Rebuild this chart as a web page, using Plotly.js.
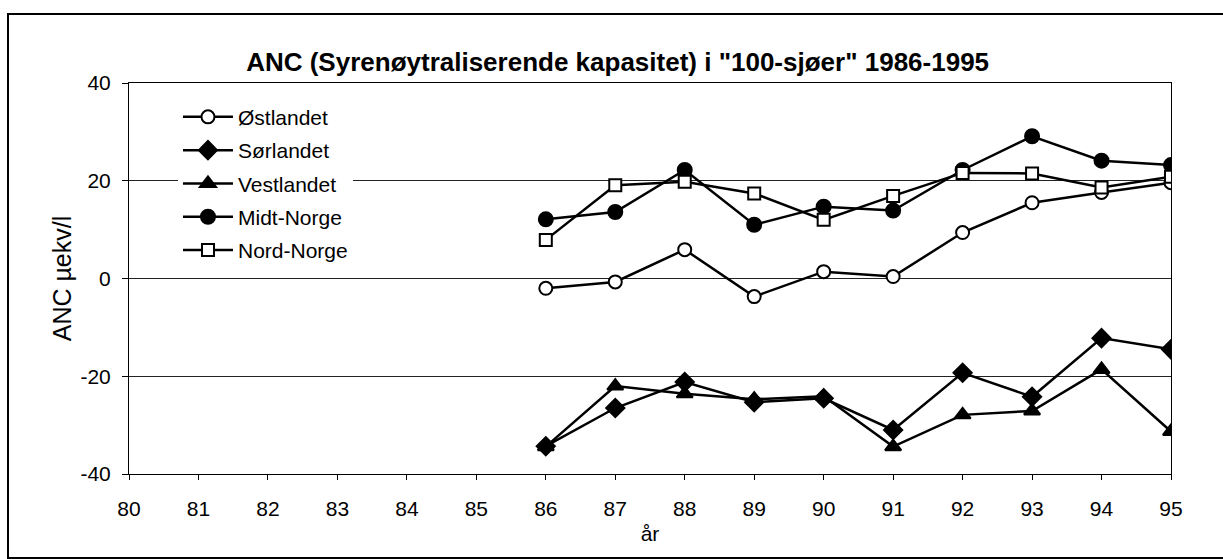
<!DOCTYPE html>
<html>
<head>
<meta charset="utf-8">
<script src="https://cdn.plot.ly/plotly-3.0.1.min.js"></script>
<style>
  html, body { margin: 0; padding: 0; background: #fff; }
  #chart { width: 1223px; height: 559px; }
</style>
</head>
<body>
<div id="chart"></div>
<script>
// ---- data ----
const years = [86, 87, 88, 89, 90, 91, 92, 93, 94, 95];
const ostlandet = [-2.0, -0.7, 5.9, -3.7, 1.4, 0.4, 9.4, 15.5, 17.6, 19.6];
const sorlandet = [-34.3, -26.5, -21.2, -25.3, -24.5, -31.0, -19.3, -24.2, -12.2, -14.5];
const vestlandet = [-34.4, -22.0, -23.6, -24.7, -24.1, -34.4, -27.9, -27.1, -18.6, -31.3];
const midtNorge = [12.1, 13.6, 22.2, 11.0, 14.7, 13.9, 22.2, 29.1, 24.1, 23.2];
const nordNorge = [7.9, 19.1, 19.8, 17.4, 12.0, 16.9, 21.6, 21.5, 18.6, 20.8];
const seriesNames = ["Østlandet", "Sørlandet", "Vestlandet", "Midt-Norge", "Nord-Norge"];
const xTicks = [80, 81, 82, 83, 84, 85, 86, 87, 88, 89, 90, 91, 92, 93, 94, 95];
const yTicks = [-40, -20, 0, 20, 40];
const titleText = 'ANC (Syrenøytraliserende kapasitet) i "100-sjøer" 1986-1995';
const xTitle = "år";
const yTitle = "ANC µekv/l";

const FONT = "Liberation Sans, Arial, Helvetica, sans-serif";

function series(name, y, symbol, size, fill) {
  return {
    type: "scatter", mode: "lines+markers",
    name: name, legendgroup: name,
    x: years, y: y,
    line: { color: "#000", width: 2.5 },
    marker: { symbol: symbol, size: size, color: fill, line: { color: "#000", width: 2 } }
  };
}

const data = [
  series(seriesNames[0], ostlandet, "circle", 13, "#fff"),
  series(seriesNames[1], sorlandet, "diamond", 14, "#000"),
  series(seriesNames[2], vestlandet, "triangle-up", 14, "#000"),
  series(seriesNames[3], midtNorge, "circle", 14, "#000"),
  series(seriesNames[4], nordNorge, "square", 12, "#fff")
];

const layout = {
  width: 1223, height: 559,
  paper_bgcolor: "#fff", plot_bgcolor: "#fff",
  font: { family: FONT, size: 21, color: "#000" },
  margin: { l: 129, r: 52, t: 83, b: 85, pad: 0 },
  title: {
    text: "<b>" + titleText + "</b>",
    font: { family: FONT, size: 26, color: "#000" },
    xref: "container", x: 0.505, xanchor: "center",
    yref: "container", y: 1 - 62 / 559, yanchor: "middle"
  },
  xaxis: {
    range: [80, 95], tickvals: xTicks, ticktext: xTicks.map(String),
    showline: true, linecolor: "#000", linewidth: 1, mirror: true,
    ticks: "outside", ticklen: 5, tickcolor: "#000", tickwidth: 1,
    showgrid: false, zeroline: false,
    ticklabelstandoff: 11,
    tickfont: { family: FONT, size: 21 },
    title: { text: xTitle, font: { family: FONT, size: 21 }, standoff: 7 }
  },
  xaxis2: {
    overlaying: "x", anchor: "y", side: "bottom", range: [80, 95], tickvals: xTicks,
    showticklabels: false, ticks: "inside", ticklen: 7, tickcolor: "#000", tickwidth: 1,
    showline: false, showgrid: false, zeroline: false
  },
  yaxis: {
    range: [-40, 40], tickvals: yTicks, ticktext: yTicks.map(String),
    showline: true, linecolor: "#000", linewidth: 1, mirror: true,
    ticks: "outside", ticklen: 6, tickcolor: "#000", tickwidth: 1,
    showgrid: true, gridcolor: "#222", gridwidth: 1, zeroline: false,
    ticklabelstandoff: 7,
    tickfont: { family: FONT, size: 21 },
    title: { text: yTitle, font: { family: FONT, size: 25 }, standoff: 1 }
  },
  showlegend: true,
  legend: {
    x: 0.047, xanchor: "left", y: 0.965, yanchor: "top",
    bgcolor: "#fff", borderwidth: 0,
    font: { family: FONT, size: 21, color: "#000" },
    tracegroupgap: 3, itemwidth: 50
  },
  shapes: [
    { type: "rect", xref: "paper", yref: "paper",
      x0: (8 - 129) / 1042, x1: (1300 - 129) / 1042,
      y0: (474 - 558) / 391, y1: (474 - 14) / 391,
      line: { color: "#000", width: 2 }, fillcolor: "rgba(0,0,0,0)", layer: "below" }
  ]
};

Plotly.newPlot("chart", data, layout, { staticPlot: true, displayModeBar: false });
</script>
</body>
</html>
